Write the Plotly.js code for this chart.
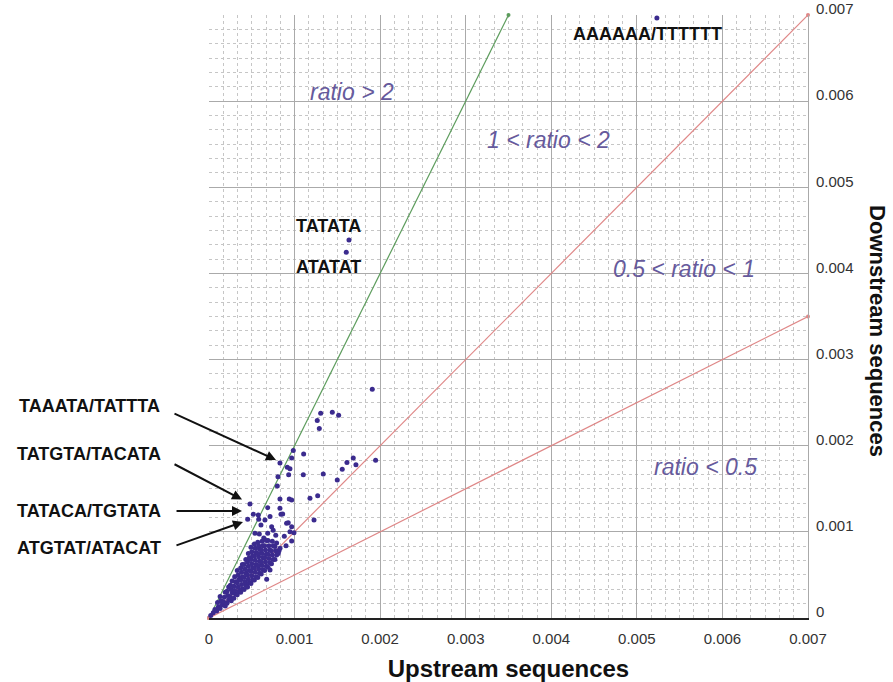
<!DOCTYPE html>
<html>
<head>
<meta charset="utf-8">
<script src="https://cdn.plot.ly/plotly-3.0.1.min.js"></script>
<style>html,body{margin:0;padding:0;background:#fff;}#chart{width:893px;height:682px;}</style>
</head>
<body>
<div id="chart"></div>
<script>
// ---- data (upstream = x, downstream = y) ----
const outlierUp = [
  0.001908, 0.001305, 0.001441, 0.001515, 0.001265, 0.001289, 0.000985, 0.001106, 0.000966, 0.000829,
  0.000915, 0.000946, 0.000931, 0.001102, 0.001335, 0.000806, 0.001612, 0.001686, 0.001717, 0.001557,
  0.001947, 0.001499, 0.000798, 0.001180, 0.001270, 0.000829, 0.000938, 0.000479, 0.000518, 0.000452,
  0.000686, 0.000829, 0.000841, 0.000713, 0.001227, 0.000581, 0.000926, 0.000966, 0.000993, 0.000588,
  0.000966, 0.000818, 0.000713, 0.000674, 0.000576, 0.000966, 0.000861, 0.000654, 0.000732, 0.000607,
  0.000686, 0.000907, 0.000946, 0.000537, 0.000750, 0.000880, 0.000640, 0.000780, 0.000900
];
const outlierDown = [
  0.002656, 0.002377, 0.002389, 0.002354, 0.002292, 0.002199, 0.001943, 0.001905, 0.001858, 0.001800,
  0.001750, 0.001734, 0.001664, 0.001664, 0.001672, 0.001641, 0.001804, 0.001858, 0.001780, 0.001727,
  0.001832, 0.001603, 0.001533, 0.001390, 0.001420, 0.001382, 0.001382, 0.001324, 0.001204, 0.001146,
  0.001281, 0.001274, 0.001204, 0.001177, 0.001138, 0.001146, 0.001107, 0.001060, 0.000991, 0.000976,
  0.000894, 0.000782, 0.000557, 0.000449, 0.001196, 0.001370, 0.001208, 0.001138, 0.001060, 0.001080,
  0.000984, 0.001100, 0.001002, 0.000984, 0.001020, 0.000950, 0.000930, 0.000960, 0.000840
];
// named sequences: TATATA, ATATAT, AAAAAA/TTTTTT
const namedUp   = [0.001636, 0.001604, 0.005234];
const namedDown = [0.004387, 0.004247, 0.006965];

// dense cluster near the origin
const clusterUp = [
  0.00002,
  0.00005, 0.00007,
  0.00009, 0.00011, 0.00010,
  0.00013, 0.00015, 0.00014, 0.00013,
  0.00019, 0.00017, 0.00018, 0.00019,
  0.00021, 0.00023, 0.00022, 0.00021, 0.00023,
  0.00026, 0.00025, 0.00027, 0.00026, 0.00025, 0.00027,
  0.00029, 0.00031, 0.00030, 0.00029, 0.00031, 0.00030,
  0.00033, 0.00035, 0.00034, 0.00033, 0.00035, 0.00034, 0.00033,
  0.00037, 0.00039, 0.00038, 0.00037, 0.00039, 0.00038, 0.00037, 0.00039,
  0.00041, 0.00043, 0.00042, 0.00041, 0.00043, 0.00042, 0.00041, 0.00043,
  0.00045, 0.00047, 0.00046, 0.00045, 0.00047, 0.00046, 0.00045, 0.00047, 0.00046,
  0.00049, 0.00051, 0.00050, 0.00049, 0.00051, 0.00050, 0.00049, 0.00051, 0.00050, 0.00049,
  0.00053, 0.00055, 0.00054, 0.00053, 0.00055, 0.00054, 0.00053, 0.00055, 0.00054, 0.00053,
  0.00057, 0.00059, 0.00058, 0.00057, 0.00059, 0.00058, 0.00057, 0.00059, 0.00058, 0.00057,
  0.00061, 0.00063, 0.00062, 0.00061, 0.00063, 0.00062, 0.00061, 0.00063, 0.00062,
  0.00065, 0.00067, 0.00066, 0.00065, 0.00067, 0.00066, 0.00065, 0.00067,
  0.00069, 0.00071, 0.00070, 0.00069, 0.00071, 0.00070, 0.00069,
  0.00073, 0.00075, 0.00074, 0.00073, 0.00075, 0.00074,
  0.00077, 0.00079, 0.00078, 0.00077, 0.00079,
  0.00081, 0.00083
];
const clusterDown = [
  0.00003,
  0.00006, 0.00010,
  0.00008, 0.00013, 0.00018,
  0.00011, 0.00015, 0.00020, 0.00025,
  0.00014, 0.00019, 0.00024, 0.00030,
  0.00017, 0.00021, 0.00026, 0.00031, 0.00036,
  0.00020, 0.00024, 0.00029, 0.00033, 0.00038, 0.00043,
  0.00023, 0.00028, 0.00032, 0.00037, 0.00042, 0.00048,
  0.00027, 0.00031, 0.00036, 0.00041, 0.00045, 0.00050, 0.00055,
  0.00030, 0.00034, 0.00039, 0.00044, 0.00048, 0.00053, 0.00058, 0.00062,
  0.00033, 0.00038, 0.00042, 0.00047, 0.00052, 0.00057, 0.00062, 0.00068,
  0.00036, 0.00041, 0.00045, 0.00050, 0.00055, 0.00060, 0.00065, 0.00070, 0.00075,
  0.00040, 0.00044, 0.00049, 0.00054, 0.00058, 0.00063, 0.00068, 0.00072, 0.00077, 0.00082,
  0.00044, 0.00048, 0.00053, 0.00058, 0.00062, 0.00067, 0.00072, 0.00076, 0.00081, 0.00086,
  0.00047, 0.00052, 0.00057, 0.00061, 0.00066, 0.00071, 0.00075, 0.00080, 0.00084, 0.00088,
  0.00051, 0.00056, 0.00061, 0.00065, 0.00070, 0.00075, 0.00079, 0.00084, 0.00089,
  0.00055, 0.00060, 0.00065, 0.00070, 0.00074, 0.00079, 0.00084, 0.00090,
  0.00059, 0.00064, 0.00069, 0.00074, 0.00079, 0.00084, 0.00090,
  0.00063, 0.00068, 0.00073, 0.00078, 0.00084, 0.00089,
  0.00068, 0.00073, 0.00078, 0.00083, 0.00087,
  0.00075, 0.00081
];

// reference ratio lines
const ratio2Up = [0, 0.0035],  ratio2Down = [0, 0.007];
const ratio1Up = [0, 0.007],   ratio1Down = [0, 0.007];
const ratioHalfUp = [0, 0.007], ratioHalfDown = [0, 0.0035];

const tickVals = [0, 0.001, 0.002, 0.003, 0.004, 0.005, 0.006, 0.007];
const tickText = ['0', '0.001', '0.002', '0.003', '0.004', '0.005', '0.006', '0.007'];

// ---- styling ----
const FONT = 'Liberation Sans, Arial, Helvetica, sans-serif';
const DOT = '#3b2b8e';
const GREEN = '#5c9c5c';
const RED = '#df8787';
const REGION = '#665a9c';

const allUp = outlierUp.concat(namedUp, clusterUp);
const allDown = outlierDown.concat(namedDown, clusterDown);

const traces = [
  {x: ratio2Up, y: ratio2Down, mode: 'lines+markers', line: {color: GREEN, width: 1.2},
   marker: {color: GREEN, size: 4}, hoverinfo: 'skip', showlegend: false, cliponaxis: false},
  {x: ratio1Up, y: ratio1Down, mode: 'lines+markers', line: {color: RED, width: 1.2},
   marker: {color: RED, size: 4}, hoverinfo: 'skip', showlegend: false, cliponaxis: false},
  {x: ratioHalfUp, y: ratioHalfDown, mode: 'lines+markers', line: {color: RED, width: 1.2},
   marker: {color: RED, size: 4}, hoverinfo: 'skip', showlegend: false, cliponaxis: false},
  {x: allUp, y: allDown, mode: 'markers', type: 'scatter',
   marker: {color: DOT, size: 5, line: {width: 0}}, showlegend: false, cliponaxis: false}
];

function region(txt, x, y) {
  return {text: txt, x: x, y: y, xref: 'x', yref: 'y', showarrow: false,
    font: {family: FONT, size: 23, color: REGION, style: 'italic'}};
}
function blackLabel(txt, x, y) {
  return {text: txt, x: x, y: y, xref: 'x', yref: 'y', showarrow: false,
    font: {family: FONT, size: 18, color: '#111', weight: 'bold'}};
}
function sideLabel(txt, py) {
  return {text: txt, x: -0.2, y: py, xref: 'paper', yref: 'paper', showarrow: false,
    xanchor: 'center', yanchor: 'middle',
    font: {family: FONT, size: 18, color: '#111', weight: 'bold'}};
}
function arrow(x, y, ax, ay) {
  return {text: '', x: x, y: y, xref: 'x', yref: 'y', ax: ax, ay: ay,
    showarrow: true, arrowhead: 2, arrowsize: 1, arrowwidth: 2, arrowcolor: '#111', standoff: 0, startstandoff: 0};
}

const layout = {
  width: 893, height: 682,
  margin: {l: 209, r: 85, t: 15, b: 64},
  paper_bgcolor: '#fff', plot_bgcolor: '#fff',
  font: {family: FONT, color: '#333'},
  xaxis: {
    range: [0, 0.007], tickvals: tickVals, ticktext: tickText,
    showgrid: true, gridcolor: '#aaaaaa', gridwidth: 1,
    minor: {dtick: 0.001 / 6, showgrid: true, gridcolor: '#c6c6c6', griddash: 'dot', gridwidth: 1},
    zeroline: false, showline: true, linecolor: '#222', linewidth: 1.5, ticks: '',
    ticklabelstandoff: 6,
    tickfont: {family: FONT, size: 15, color: '#333'},
    title: {text: 'Upstream sequences', standoff: 16,
      font: {family: FONT, size: 24, color: '#111', weight: 'bold'}}
  },
  yaxis: {
    side: 'right', range: [0, 0.007], tickvals: tickVals, ticktext: tickText,
    showgrid: true, gridcolor: '#aaaaaa', gridwidth: 1,
    minor: {dtick: 0.001 / 6, showgrid: true, gridcolor: '#c6c6c6', griddash: 'dot', gridwidth: 1},
    zeroline: false, showline: true, linecolor: '#aaa', linewidth: 1, ticks: '',
    ticklabelstandoff: 4, ticklabelshift: -6,
    tickfont: {family: FONT, size: 15, color: '#333'}
  },
  annotations: [
    region('ratio &gt; 2', 0.001667, 0.006103),
    region('1 &lt; ratio &lt; 2', 0.003964, 0.005552),
    region('0.5 &lt; ratio &lt; 1', 0.005549, 0.004053),
    region('ratio &lt; 0.5', 0.005806, 0.001748),
    blackLabel('AAAAAA/TTTTTT', 0.005123, 0.006783),
    blackLabel('TATATA', 0.001402, 0.004545),
    blackLabel('ATATAT', 0.001394, 0.004071),
    sideLabel('TAAATA/TATTTA', 0.3516),
    sideLabel('TATGTA/TACATA', 0.2716),
    sideLabel('TATACA/TGTATA', 0.1778),
    sideLabel('ATGTAT/ATACAT', 0.1169),
    arrow(0.000783, 0.001835, -103, -47),
    arrow(0.000386, 0.001376, -69, -36),
    arrow(0.000386, 0.001243, -67, 0),
    arrow(0.000397, 0.001115, -68, 24),
    {text: 'Downstream sequences', x: 1.115, y: 0.476, xref: 'paper', yref: 'paper',
     showarrow: false, textangle: 90, xanchor: 'center', yanchor: 'middle',
     font: {family: FONT, size: 22, color: '#111', weight: 'bold'}}
  ]
};

Plotly.newPlot('chart', traces, layout, {displayModeBar: false, staticPlot: true});
</script>
</body>
</html>
